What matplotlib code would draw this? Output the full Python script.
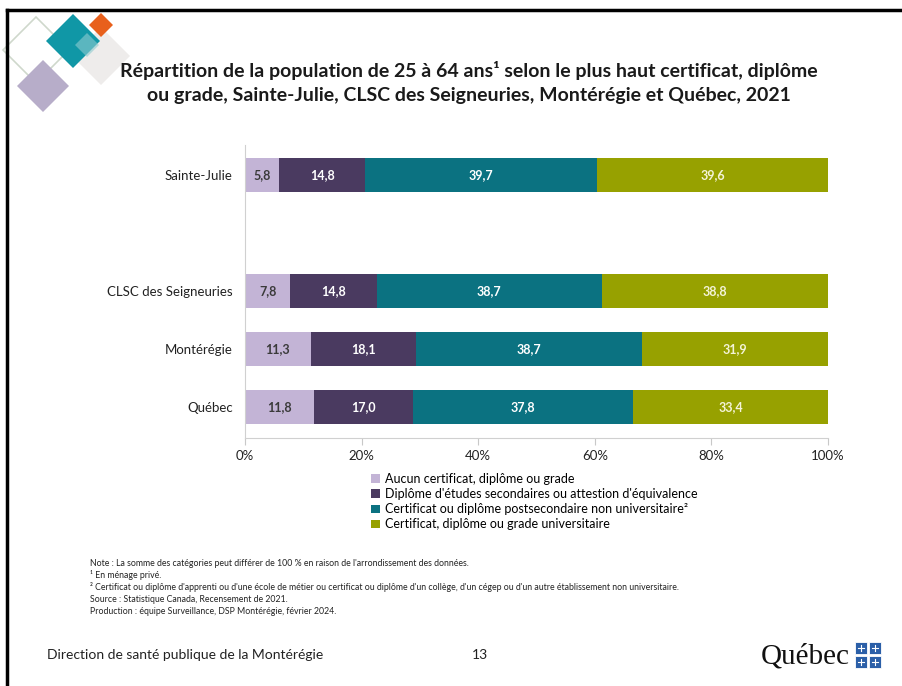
import numpy as np
import matplotlib
matplotlib.use("Agg")
import matplotlib.pyplot as plt
from matplotlib.patches import Polygon, Rectangle

plt.rcParams['font.family'] = ['Lato', 'DejaVu Sans']

# données
territoires = ["Québec", "Montérégie", "CLSC des Seigneuries", "Sainte-Julie"]
positions = [0, 1, 2, 4]
aucun = [11.8, 11.3, 7.8, 5.8]
secondaire = [17.0, 18.1, 14.8, 14.8]
postsec = [37.8, 38.7, 38.7, 39.7]
universitaire = [33.4, 31.9, 38.8, 39.6]

categories = ["Aucun certificat, diplôme ou grade",
              "Diplôme d'études secondaires ou attestion d'équivalence",
              "Certificat ou diplôme postsecondaire non universitaire²",
              "Certificat, diplôme ou grade universitaire"]
couleurs = ["#c3b4d6", "#4a3a60", "#0b7281", "#97a100"]
couleurs_txt = ["#3a3a3a", "white", "white", "#f4f4d8"]
xticks = [0, 20, 40, 60, 80, 100]

series = [aucun, secondaire, postsec, universitaire]

fig = plt.figure(figsize=(9.02, 6.86), dpi=100)

# calque de décoration en pixels
deco = fig.add_axes([0, 0, 1, 1])
deco.set_xlim(0, 902)
deco.set_ylim(686, 0)
deco.axis('off')

def losange(cx, cy, r, **kw):
    deco.add_patch(Polygon([(cx, cy - r), (cx + r, cy), (cx, cy + r), (cx - r, cy)], closed=True, **kw))

losange(36, 50, 33, fill=False, edgecolor="#cfd8cc", lw=1.2)
losange(101, 56, 29, facecolor="#eeeceb", edgecolor="none")
losange(73, 41, 27, facecolor="#1097a6", edgecolor="none")
losange(101, 25, 12, facecolor="#e8601c", edgecolor="none")
losange(87, 45, 12, facecolor="#8ecbd0", edgecolor="none", alpha=0.6)
losange(43, 86, 26, facecolor="#b7adc9", edgecolor="none")

# cadre de la diapo
deco.plot([7, 7], [10, 686], color="black", lw=2.5)
deco.plot([7, 902], [10, 10], color="black", lw=2.5)

# titre
fig.text(0.52, 1 - 70 / 686, "Répartition de la population de 25 à 64 ans¹ selon le plus haut certificat, diplôme",
         ha='center', va='center', fontsize=14, fontweight='bold', color="#1a1a1a")
fig.text(0.52, 1 - 95 / 686, "ou grade, Sainte-Julie, CLSC des Seigneuries, Montérégie et Québec, 2021",
         ha='center', va='center', fontsize=14, fontweight='bold', color="#1a1a1a")

# graphique
ax = fig.add_axes([245 / 902, 1 - 438 / 686, 583 / 902, 293 / 686])
totaux = np.sum(series, axis=0)
gauche = np.zeros(len(territoires))
for vals, coul, ctxt, lab in zip(series, couleurs, couleurs_txt, categories):
    vals = np.array(vals)
    larg = vals / totaux * 100
    ax.barh(positions, larg, left=gauche, height=0.58, color=coul, label=lab)
    for p, g, w, v in zip(positions, gauche, larg, vals):
        ax.text(g + w / 2, p, f"{v:.1f}".replace(".", ","), ha='center', va='center',
                fontsize=9, fontweight='bold', color=ctxt)
    gauche += larg

ax.set_xlim(0, 100)
ax.set_ylim(-0.53, 4.52)
ax.set_yticks(positions)
ax.set_yticklabels(territoires, fontsize=9.5, color="#222222")
ax.set_xticks(xticks)
ax.set_xticklabels([f"{t}%" for t in xticks], fontsize=9.5, color="#222222")
ax.tick_params(axis='y', length=0, pad=9)
ax.tick_params(axis='x', length=5, color="#c8c8c8", pad=4)
for s in ['top', 'right']:
    ax.spines[s].set_visible(False)
for s in ['left', 'bottom']:
    ax.spines[s].set_color("#d0d0d0")

# légende
handles, labels = ax.get_legend_handles_labels()
fig.legend(handles, labels, loc='upper left', bbox_to_anchor=(371 / 902, 1 - 473 / 686),
           frameon=False, fontsize=9, handlelength=0.7, handleheight=0.7,
           handletextpad=0.4, labelspacing=0.25, borderpad=0, borderaxespad=0)

# notes
notes = ["Note : La somme des catégories peut différer de 100 % en raison de l'arrondissement des données.",
         "¹ En ménage privé.",
         "² Certificat ou diplôme d'apprenti ou d'une école de métier ou certificat ou diplôme d'un collège, d'un cégep ou d'un autre établissement non universitaire.",
         "Source : Statistique Canada, Recensement de 2021.",
         "Production : équipe Surveillance, DSP Montérégie, février 2024."]
for i, n in enumerate(notes):
    fig.text(90 / 902, 1 - (563 + 12 * i) / 686, n, ha='left', va='center', fontsize=6.3, color="#222222")

# pied de page
fig.text(47 / 902, 1 - 655 / 686, "Direction de santé publique de la Montérégie", ha='left', va='center',
         fontsize=10, color="#222222")
fig.text(480 / 902, 1 - 655 / 686, "13", ha='center', va='center', fontsize=10, color="#222222")
fig.text(850 / 902, 1 - 656 / 686, "Québec", ha='right', va='center', fontsize=21,
         family=['Liberation Serif', 'DejaVu Serif'], color="#111111")
for (x0, y0) in [(855, 642), (869, 642), (855, 656), (869, 656)]:
    deco.add_patch(Rectangle((x0, y0), 12, 12, facecolor="#2b5fa8", edgecolor="white", lw=0.6))
    deco.plot([x0 + 6, x0 + 6], [y0 + 3, y0 + 9], color="white", lw=0.8)
    deco.plot([x0 + 3, x0 + 9], [y0 + 6, y0 + 6], color="white", lw=0.8)

fig.savefig("out.png", dpi=100)
